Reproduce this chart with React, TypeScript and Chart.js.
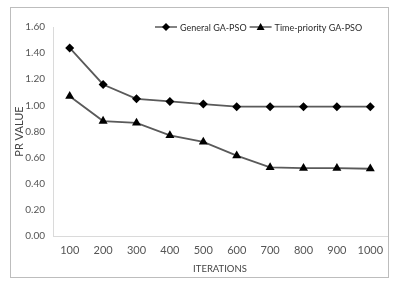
import React, { useEffect, useRef } from "react";
import { Chart, registerables } from "chart.js";

Chart.register(...registerables);

const categories = ["100", "200", "300", "400", "500", "600", "700", "800", "900", "1000"];
const generalValues = [1.44, 1.16, 1.05, 1.03, 1.01, 0.99, 0.99, 0.99, 0.99, 0.99];
const timePriorityValues = [1.07, 0.88, 0.866, 0.77, 0.72, 0.615, 0.525, 0.52, 0.52, 0.515];
const seriesNames = ["General GA-PSO", "Time-priority GA-PSO"];
const yTickMin = 0;
const yTickMax = 1.6;
const yTickStep = 0.2;

const FONT = "Lato, 'Open Sans', sans-serif";

const framePlugin = {
  id: "frame",
  afterDraw(chart: any) {
    const ctx = chart.ctx;
    ctx.save();
    ctx.strokeStyle = "#bdbdbd";
    ctx.lineWidth = 1;
    ctx.strokeRect(10.5, 7.5, 378, 270);
    ctx.restore();
  },
};

const legendPlugin = {
  id: "lineLegend",
  afterDraw(chart: any) {
    const ctx = chart.ctx;
    ctx.save();
    ctx.font = `9px ${FONT}`;
    ctx.textBaseline = "middle";
    let x = 155;
    const y = 27;
    chart.data.datasets.forEach((ds: any) => {
      ctx.strokeStyle = ds.borderColor;
      ctx.lineWidth = 1.5;
      ctx.beginPath();
      ctx.moveTo(x, y);
      ctx.lineTo(x + 22, y);
      ctx.stroke();
      ctx.fillStyle = "#000";
      const cx = x + 11;
      ctx.beginPath();
      if (ds.pointStyle === "triangle") {
        ctx.moveTo(cx, y - 4);
        ctx.lineTo(cx + 4, y + 3);
        ctx.lineTo(cx - 4, y + 3);
      } else {
        ctx.moveTo(cx, y - 4);
        ctx.lineTo(cx + 4, y);
        ctx.lineTo(cx, y + 4);
        ctx.lineTo(cx - 4, y);
      }
      ctx.closePath();
      ctx.fill();
      ctx.fillStyle = "#2a2a2a";
      ctx.fillText(ds.label, x + 25, y + 1);
      x += 25 + ctx.measureText(ds.label).width + 3;
    });
    ctx.restore();
  },
};

export default function App() {
  const ref = useRef<HTMLCanvasElement | null>(null);
  useEffect(() => {
    if (!ref.current) return;
    const chart = new Chart(ref.current, {
      type: "line",
      data: {
        labels: categories,
        datasets: [
          {
            label: seriesNames[0],
            data: generalValues,
            borderColor: "#5a5a5a",
            borderWidth: 1.8,
            pointStyle: "rectRot",
            pointRadius: 4.5,
            pointBackgroundColor: "#000",
            pointBorderColor: "#000",
            pointBorderWidth: 0,
            tension: 0,
          },
          {
            label: seriesNames[1],
            data: timePriorityValues,
            borderColor: "#5a5a5a",
            borderWidth: 1.8,
            pointStyle: "triangle",
            pointRadius: 5.2,
            pointBackgroundColor: "#000",
            pointBorderColor: "#000",
            pointBorderWidth: 0,
            tension: 0,
          },
        ],
      },
      options: {
        animation: false,
        responsive: false,
        maintainAspectRatio: false,
        layout: { padding: { top: 27, right: 13, bottom: 0, left: 0 } },
        plugins: {
          legend: { display: false },
          tooltip: { enabled: false },
        },
        scales: {
          x: {
            offset: true,
            grid: { display: false, drawTicks: false },
            border: { display: true, color: "#dadada", width: 1 },
            ticks: { color: "#555", font: { family: FONT, size: 11 }, padding: 8, maxRotation: 0, autoSkip: false },
            title: { display: true, text: "ITERATIONS", color: "#444", font: { family: FONT, size: 9.5 }, padding: { top: 0, bottom: 11 } },
            afterFit(scale: any) {
              scale.height = 50;
            },
          },
          y: {
            min: yTickMin,
            max: yTickMax,
            grid: { display: false, drawTicks: false },
            border: { display: true, color: "#dadada", width: 1 },
            ticks: {
              stepSize: yTickStep,
              color: "#555",
              font: { family: FONT, size: 10 },
              padding: 8,
              callback: (v: any) => Number(v).toFixed(2),
            },
            title: { display: true, text: "PR VALUE", color: "#444", font: { family: FONT, size: 11 }, padding: { top: 13, bottom: 0 } },
            afterFit(scale: any) {
              scale.width = 53;
            },
          },
        },
      },
      plugins: [framePlugin, legendPlugin],
    });
    return () => chart.destroy();
  }, []);
  return (
    <div style={{ position: "absolute", left: 0, top: 0, width: 400, height: 286, background: "#fff" }}>
      <canvas ref={ref} width={400} height={286} style={{ width: 400, height: 286, display: "block" }} />
    </div>
  );
}
